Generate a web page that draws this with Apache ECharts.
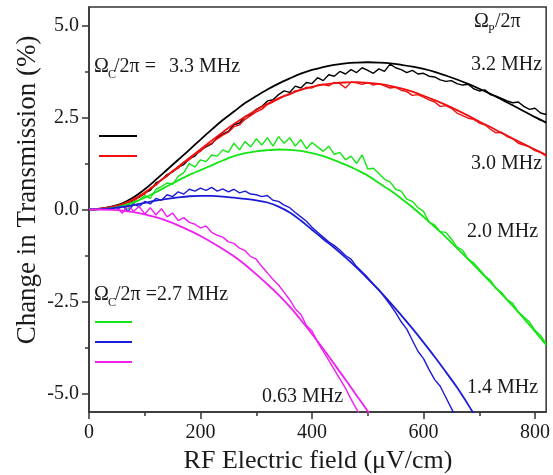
<!DOCTYPE html>
<html>
<head>
<meta charset="utf-8">
<script src="https://cdn.jsdelivr.net/npm/echarts@6/dist/echarts.min.js"></script>
<style>
  html, body { margin: 0; padding: 0; background: #fff; }
  #chart { width: 553px; height: 475px; }
</style>
</head>
<body>
<div id="chart"></div>
<script>
// x positions (μV/cm)
const fitX = [0, 20, 40, 60, 80, 100, 120, 140, 160, 180, 200, 220, 240, 260, 280, 300, 320, 340, 360, 380, 400,
  420, 440, 460, 480, 500, 520, 540, 560, 580, 600, 620, 640, 660, 680, 700, 720, 740, 760, 780, 800, 820];
const dataX = [50, 60, 70, 80, 90, 100, 110, 120, 130, 140, 150, 160, 170, 180, 190, 200, 210, 220, 230, 240,
  250, 260, 270, 280, 290, 300, 310, 320, 330, 340, 350, 360, 370, 380, 390, 400, 410, 420, 430, 440,
  450, 460, 470, 480, 490, 500, 510, 520, 530, 540, 550, 560, 570, 580, 590, 600, 610, 620, 630, 640,
  650, 660, 670, 680, 690, 700, 710, 720, 730, 740, 750, 760, 770, 780, 790, 800, 810, 820];

// theory curves
const fit32 = [0, 0.02, 0.08, 0.17, 0.33, 0.55, 0.81, 1.08, 1.35, 1.62, 1.90, 2.17, 2.43, 2.66, 2.89, 3.08, 3.26, 3.42, 3.56, 3.69, 3.79,
  3.87, 3.93, 3.97, 3.99, 4.00, 3.99, 3.97, 3.93, 3.88, 3.82, 3.74, 3.64, 3.53, 3.41, 3.28, 3.14, 2.99, 2.83, 2.67, 2.51, 2.36];
const fit30 = [0, 0.02, 0.07, 0.15, 0.28, 0.46, 0.68, 0.92, 1.16, 1.40, 1.63, 1.87, 2.10, 2.32, 2.52, 2.70, 2.87, 3.02, 3.14, 3.25, 3.33,
  3.39, 3.43, 3.45, 3.46, 3.44, 3.41, 3.36, 3.29, 3.20, 3.09, 2.97, 2.84, 2.70, 2.55, 2.39, 2.24, 2.08, 1.93, 1.78, 1.63, 1.48];
const fit20 = [0, 0.01, 0.04, 0.10, 0.20, 0.32, 0.47, 0.63, 0.79, 0.94, 1.07, 1.20, 1.33, 1.45, 1.53, 1.58, 1.61, 1.63, 1.62, 1.59, 1.53,
  1.45, 1.34, 1.22, 1.08, 0.92, 0.72, 0.52, 0.30, 0.06, -0.20, -0.47, -0.75, -1.05, -1.35, -1.66, -1.97, -2.29, -2.62, -2.96, -3.31, -3.68];
const fit14 = [0, 0.01, 0.03, 0.07, 0.12, 0.18, 0.24, 0.29, 0.33, 0.36, 0.37, 0.37, 0.35, 0.32, 0.29, 0.25, 0.19, 0.08, -0.08, -0.30, -0.55,
  -0.80, -1.04, -1.30, -1.58, -1.88, -2.19, -2.52, -2.87, -3.23, -3.61, -4.00, -4.41, -4.83, -5.30, -5.80];
const fit063 = [0, 0, -0.01, -0.03, -0.07, -0.13, -0.21, -0.31, -0.43, -0.57, -0.72, -0.89, -1.07, -1.27, -1.50, -1.76, -2.03, -2.32, -2.64, -3.00, -3.38,
  -3.78, -4.20, -4.62, -5.05, -5.48, -5.92];

// measured traces
const data32 = [0.05, 0.15, 0.12, 0.28, 0.33, 0.45, 0.52, 0.72, 0.80, 0.95, 1.02, 1.15, 1.22, 1.38, 1.45, 1.62, 1.70, 1.78, 1.95, 2.05,
  2.12, 2.30, 2.35, 2.52, 2.58, 2.72, 2.80, 2.95, 2.98, 3.12, 3.22, 3.18, 3.35, 3.30, 3.45, 3.42, 3.58, 3.50, 3.66, 3.62,
  3.75, 3.68, 3.80, 3.72, 3.85, 3.78, 3.70, 3.82, 3.75, 3.95, 3.85, 3.80, 3.72, 3.78, 3.68, 3.70, 3.62, 3.60, 3.52, 3.48,
  3.50, 3.42, 3.38, 3.40, 3.28, 3.22, 3.25, 3.12, 3.08, 3.02, 2.95, 2.90, 2.92, 2.80, 2.72, 2.75, 2.62, 2.58];
const data30 = [0.02, 0.10, 0.18, 0.22, 0.35, 0.42, 0.58, 0.66, 0.82, 0.90, 1.05, 1.12, 1.28, 1.35, 1.50, 1.58, 1.72, 1.80, 1.92, 2.02,
  2.10, 2.25, 2.30, 2.45, 2.55, 2.65, 2.72, 2.85, 2.92, 3.00, 3.08, 3.12, 3.22, 3.25, 3.32, 3.30, 3.38, 3.40, 3.36, 3.45,
  3.42, 3.30, 3.46, 3.44, 3.40, 3.45, 3.38, 3.42, 3.36, 3.30, 3.32, 3.24, 3.20, 3.10, 3.12, 3.05, 2.98, 2.92, 2.80, 2.82,
  2.75, 2.62, 2.55, 2.48, 2.45, 2.35, 2.30, 2.18, 2.08, 2.10, 1.98, 1.92, 1.80, 1.75, 1.70, 1.60, 1.55, 1.45];
const data20 = [0.05, 0.12, 0.02, 0.18, 0.25, 0.38, 0.30, 0.55, 0.62, 0.72, 0.68, 0.90, 1.00, 1.25, 1.15, 1.35, 1.30, 1.48, 1.45, 1.62,
  1.55, 1.80, 1.62, 1.85, 1.70, 1.92, 1.75, 1.95, 1.72, 1.98, 1.80, 1.95, 1.72, 1.90, 1.65, 1.82, 1.70, 1.58, 1.72, 1.50,
  1.55, 1.35, 1.45, 1.25, 1.48, 1.10, 1.12, 0.98, 0.82, 0.75, 0.55, 0.50, 0.28, 0.22, 0.05, -0.05, -0.35, -0.42, -0.60, -0.62,
  -0.80, -1.02, -1.10, -1.35, -1.45, -1.62, -1.80, -1.92, -2.15, -2.25, -2.45, -2.55, -2.78, -2.92, -3.05, -3.28, -3.42, -3.65];
const data14 = [0.00, 0.10, -0.05, 0.15, 0.08, 0.22, 0.15, 0.30, 0.25, 0.40, 0.35, 0.48, 0.42, 0.55, 0.50, 0.58, 0.52, 0.60, 0.50, 0.56,
  0.48, 0.55, 0.45, 0.50, 0.42, 0.40, 0.35, 0.38, 0.25, 0.22, 0.12, 0.05, -0.08, -0.20, -0.32, -0.48, -0.62, -0.75, -0.88, -0.98,
  -1.10, -1.25, -1.35, -1.55, -1.70, -1.85, -2.02, -2.18, -2.38, -2.58, -2.80, -3.05, -3.25, -3.55, -3.85, -4.05, -4.35, -4.62, -4.80, -5.10,
  -5.40, -5.70];
const data063 = [0.05, -0.10, 0.12, -0.05, 0.08, -0.12, 0.05, -0.15, 0.02, -0.20, -0.10, -0.30, -0.22, -0.35, -0.40, -0.50, -0.45, -0.62, -0.70, -0.75,
  -0.88, -0.92, -1.05, -1.12, -1.28, -1.35, -1.55, -1.72, -1.90, -2.05, -2.25, -2.45, -2.70, -2.85, -3.15, -3.30, -3.60, -3.85, -4.10, -4.35,
  -4.60, -4.85, -5.15, -5.42, -5.70];

const xLabels = [0, 200, 400, 600, 800];
const xMinor = [100, 300, 500, 700];
const yLabels = [-5, -2.5, 0, 2.5, 5];
const yMinor = [-3.75, -1.25, 1.25, 3.75];

const groups = [
  { name: '3.2 MHz', color: '#000000', fit: fit32, data: data32 },
  { name: '3.0 MHz', color: '#f01010', fit: fit30, data: data30 },
  { name: '2.0 MHz', color: '#14e614', fit: fit20, data: data20 },
  { name: '1.4 MHz', color: '#1c1cd8', fit: fit14, data: data14 },
  { name: '0.63 MHz', color: '#f01ef0', fit: fit063, data: data063 }
];

const serif = '"Liberation Serif", "DejaVu Serif", serif';
const ink = '#1a1a1a';

function zip(xs, ys) {
  return ys.map((y, i) => [xs[i], y]);
}

const series = [];
groups.forEach(g => {
  series.push({
    name: g.name, type: 'line', data: zip(dataX, g.data), showSymbol: false,
    lineStyle: { color: g.color, width: 1.4 }, itemStyle: { color: g.color }, z: 2
  });
  series.push({
    name: g.name, type: 'line', data: zip(fitX, g.fit), showSymbol: false, smooth: 0.35,
    lineStyle: { color: g.color, width: 1.8 }, itemStyle: { color: g.color }, z: 3
  });
});

function txt(x, y, text, size, extra) {
  return Object.assign({
    type: 'text', x: x, y: y, z: 10,
    style: Object.assign({ text: text, fontSize: size, fontFamily: serif, fill: ink, verticalAlign: 'middle' }, extra || {})
  });
}
function seg(x1, x2, y, color) {
  return { type: 'line', z: 10, shape: { x1: x1, y1: y, x2: x2, y2: y }, style: { stroke: color, lineWidth: 1.8 } };
}

const yTitle = txt(28, 190, 'Change in Transmission (%)', 27, { align: 'center' });
yTitle.rotation = Math.PI / 2;

const graphic = [
  // control Rabi 3.3 MHz block
  txt(94, 67, 'Ω', 20), txt(108, 75, 'C', 12), txt(114, 67, '/2π =', 20), txt(169, 67, '3.3 MHz', 20),
  seg(99, 137, 136, groups[0].color), seg(99, 137, 156, groups[1].color),
  // control Rabi 2.7 MHz block
  txt(94, 295, 'Ω', 20), txt(108, 303, 'C', 12), txt(115, 295, '/2π =2.7 MHz', 20),
  seg(95, 132, 322, groups[2].color), seg(95, 132, 342, groups[3].color), seg(95, 132, 362, groups[4].color),
  // probe Rabi labels
  txt(474, 22, 'Ω', 20), txt(488, 30, 'P', 12), txt(495, 22, '/2π', 20),
  txt(471, 65, '3.2 MHz', 20), txt(471, 164, '3.0 MHz', 20), txt(467, 232, '2.0 MHz', 20),
  txt(467, 388, '1.4 MHz', 20), txt(262, 397, '0.63 MHz', 20),
  // axis titles
  txt(318, 461, 'RF Electric field (μV/cm)', 26, { align: 'center' }),
  yTitle
];

const axisLineStyle = { color: '#333', width: 1.5 };

const option = {
  animation: false,
  backgroundColor: '#fff',
  grid: { left: 89, right: 4, top: 7, bottom: 63, show: true, borderColor: '#333', borderWidth: 1.5 },
  xAxis: [{
    type: 'value', min: 0, max: 820,
    axisLine: { show: true, onZero: false, lineStyle: axisLineStyle },
    axisTick: { show: true, length: 7, lineStyle: axisLineStyle, customValues: xLabels },
    axisLabel: { customValues: xLabels, margin: 11, fontSize: 20, fontFamily: serif, color: ink },
    splitLine: { show: false }
  }, {
    type: 'value', min: 0, max: 820, position: 'bottom',
    axisLine: { show: false, onZero: false },
    axisTick: { show: true, length: 4, lineStyle: axisLineStyle, customValues: xMinor },
    axisLabel: { show: false },
    splitLine: { show: false }
  }],
  yAxis: [{
    type: 'value', min: -5.5, max: 5.5,
    axisLine: { show: true, onZero: false, lineStyle: axisLineStyle },
    axisTick: { show: true, length: 7, lineStyle: axisLineStyle, customValues: yLabels },
    axisLabel: {
      customValues: yLabels, margin: 10, fontSize: 20, fontFamily: serif, color: ink,
      formatter: v => v.toFixed(1)
    },
    splitLine: { show: false }
  }, {
    type: 'value', min: -5.5, max: 5.5, position: 'left',
    axisLine: { show: false, onZero: false },
    axisTick: { show: true, length: 4, lineStyle: axisLineStyle, customValues: yMinor },
    axisLabel: { show: false },
    splitLine: { show: false }
  }],
  series: series,
  graphic: graphic
};

const chart = echarts.init(document.getElementById('chart'));
chart.setOption(option);
window.addEventListener('resize', () => chart.resize());
</script>
</body>
</html>
